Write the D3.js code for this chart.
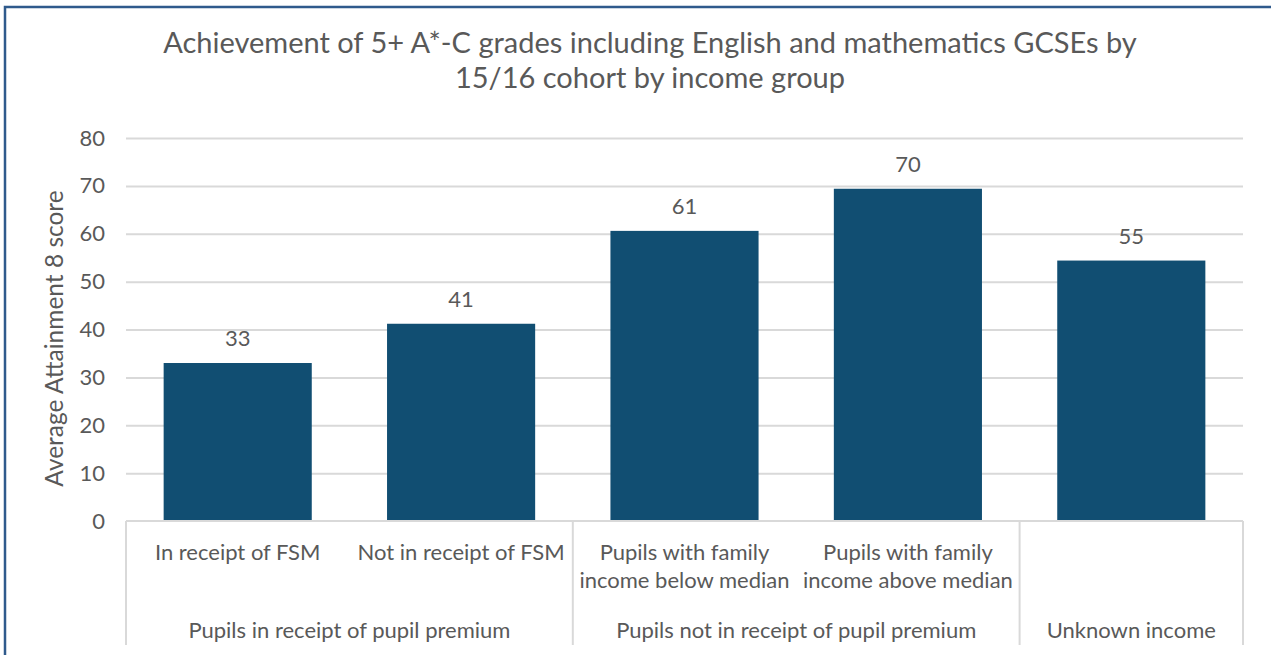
<!DOCTYPE html>
<meta charset="utf-8">
<head>
<style>
  body { margin: 0; background: #fff; }
  text { font-family: Lato, "Open Sans", sans-serif; fill: #595959; }
  .grid line { stroke: #d9d9d9; stroke-width: 2; }
  .grid path { display: none; }
  .ytick text { font-size: 22px; }
</style>
</head>
<body>
<script src="https://d3js.org/d3.v7.min.js"></script>
<script>

// data
var categories = ["In receipt of FSM", "Not in receipt of FSM",
                  "Pupils with family|income below median", "Pupils with family|income above median",
                  ""];
var scores = [33.0, 41.2, 60.6, 69.4, 54.4];      // bar heights
var scoreLabels = ["33", "41", "61", "70", "55"]; // labels as printed
var groups = ["Pupils in receipt of pupil premium", "Pupils not in receipt of pupil premium", "Unknown income"];
var groupSpans = [[0, 2], [2, 4], [4, 5]];   // category index range for each group
var yTicks = [0, 10, 20, 30, 40, 50, 60, 70, 80];
var titleLines = ["Achievement of 5+ A*-C grades including English and mathematics GCSEs by",
                  "15/16 cohort by income group"];

var W = 1271, H = 655;
var margin = {top: 138, right: 28, bottom: 134, left: 126},
    width = W - margin.left - margin.right,
    height = H - margin.top - margin.bottom;

var svg = d3.select("body").append("svg")
    .attr("width", W)
    .attr("height", H);

// outer frame (left + top visible)
svg.append("path")
    .attr("d", "M5," + H + " V7 H" + W)
    .attr("fill", "none")
    .attr("stroke", "#2f5a8c")
    .attr("stroke-width", 2.5);

svg.selectAll(".title")
    .data(titleLines)
    .enter().append("text")
    .attr("class", "title")
    .attr("x", 650)
    .attr("y", function(d, i) { return 53 + i * 35; })
    .attr("text-anchor", "middle")
    .style("font-size", "29px")
    .text(function(d) { return d; });

var g = svg.append("g")
    .attr("transform", "translate(" + margin.left + "," + margin.top + ")");

var x = d3.scaleBand()
    .domain(d3.range(categories.length))
    .range([0, width])
    .paddingInner(0.337)
    .paddingOuter(0.337 / 2);

var y = d3.scaleLinear()
    .domain([0, 80])
    .range([height, 0]);

// gridlines
g.append("g")
    .attr("class", "grid")
    .call(d3.axisLeft(y).tickValues(yTicks.slice(1)).tickSize(-width).tickFormat(""));

// y tick labels
g.append("g")
    .attr("class", "ytick")
    .call(d3.axisLeft(y).tickValues(yTicks).tickSize(0).tickPadding(21))
    .call(function(s) { s.select(".domain").remove(); });

// y axis title
g.append("text")
    .attr("transform", "rotate(-90)")
    .attr("x", -(height / 2) - 9)
    .attr("y", -63)
    .attr("text-anchor", "middle")
    .style("font-size", "24.5px")
    .text("Average Attainment 8 score");

// bars
g.selectAll(".bar")
    .data(scores)
    .enter().append("rect")
    .attr("class", "bar")
    .attr("x", function(d, i) { return x(i); })
    .attr("width", x.bandwidth())
    .attr("y", function(d) { return y(d); })
    .attr("height", function(d) { return height - y(d); })
    .attr("fill", "#114e72");

// value labels
g.selectAll(".val")
    .data(scores)
    .enter().append("text")
    .attr("class", "val")
    .attr("x", function(d, i) { return x(i) + x.bandwidth() / 2; })
    .attr("y", function(d) { return y(d) - 17; })
    .attr("text-anchor", "middle")
    .style("font-size", "22px")
    .text(function(d, i) { return scoreLabels[i]; });

// category axis (two levels)
var step = x.step();
var axisColor = "#d9d9d9";
var bottomY = height + 124;

g.append("line")
    .attr("x1", 0).attr("x2", width)
    .attr("y1", height).attr("y2", height)
    .attr("stroke", axisColor).attr("stroke-width", 2);

var bounds = [0].concat(groupSpans.map(function(s) { return s[1]; }));
g.selectAll(".sep")
    .data(bounds)
    .enter().append("line")
    .attr("class", "sep")
    .attr("x1", function(d) { return d * step; })
    .attr("x2", function(d) { return d * step; })
    .attr("y1", height)
    .attr("y2", bottomY)
    .attr("stroke", axisColor)
    .attr("stroke-width", 2);

var catText = g.selectAll(".cat")
    .data(categories)
    .enter().append("text")
    .attr("class", "cat")
    .attr("text-anchor", "middle")
    .style("font-size", "22px");

catText.each(function(d, i) {
  var lines = d.split("|");
  d3.select(this).selectAll("tspan")
    .data(lines)
    .enter().append("tspan")
    .attr("x", x(i) + x.bandwidth() / 2)
    .attr("y", function(l, j) { return height + 39 + j * 28; })
    .text(function(l) { return l; });
});

g.selectAll(".grp")
    .data(groups)
    .enter().append("text")
    .attr("class", "grp")
    .attr("x", function(d, i) { return (groupSpans[i][0] + groupSpans[i][1]) / 2 * step; })
    .attr("y", height + 117)
    .attr("text-anchor", "middle")
    .style("font-size", "22px")
    .text(function(d) { return d; });

</script>
</body>
